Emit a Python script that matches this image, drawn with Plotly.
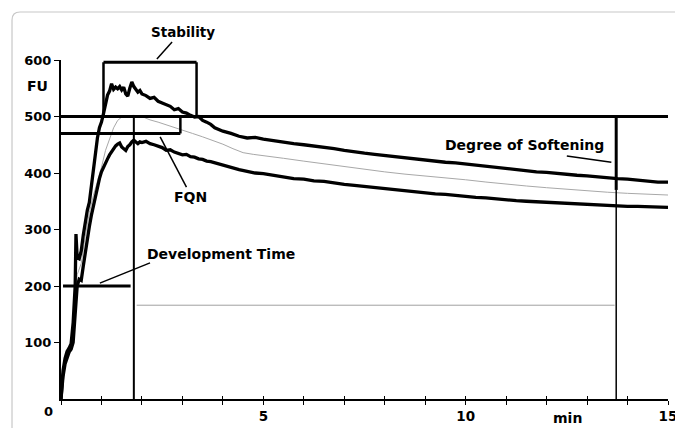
import plotly.graph_objects as go

# ---------------- data ----------------
t_upper = [0, 0.05, 0.1, 0.15, 0.2, 0.25, 0.3, 0.35, 0.37, 0.4, 0.45, 0.5, 0.55, 0.6, 0.65, 0.7,
           0.75, 0.8, 0.85, 0.9, 0.95, 1.0, 1.05, 1.1, 1.15, 1.2, 1.25, 1.3, 1.35, 1.4, 1.45, 1.5,
           1.55, 1.6, 1.65, 1.7, 1.75, 1.8, 1.85, 1.9, 1.95, 2.0, 2.1, 2.2, 2.3, 2.4, 2.5, 2.6, 2.7,
           2.8, 2.9, 3.0, 3.1, 3.2, 3.3, 3.4, 3.5, 3.6, 3.7, 3.8, 3.9, 4.0, 4.2, 4.4, 4.6, 4.8, 5.0,
           5.25, 5.5, 5.75, 6.0, 6.25, 6.5, 6.75, 7.0, 7.25, 7.5, 7.75, 8.0, 8.25, 8.5, 8.75, 9.0,
           9.25, 9.5, 9.75, 10.0, 10.25, 10.5, 10.75, 11.0, 11.25, 11.5, 11.75, 12.0, 12.25, 12.5,
           12.75, 13.0, 13.25, 13.5, 13.75, 14.0, 14.25, 14.5, 14.75, 15.0]
fu_upper = [0, 50, 72, 84, 90, 98, 135, 200, 292, 250, 248, 262, 290, 315, 334, 348,
            375, 405, 440, 462, 480, 490, 505, 525, 538, 545, 558, 548, 552, 549, 553, 547,
            552, 540, 536, 550, 561, 553, 549, 543, 546, 540, 537, 532, 534, 527, 524, 521, 518,
            512, 514, 508, 506, 502, 499, 500, 493, 490, 486, 480, 477, 474, 470, 465, 462, 463, 460,
            457, 455, 452, 450, 448, 446, 443, 440, 437, 435, 433, 431, 429, 427, 424, 423,
            421, 419, 418, 416, 413, 411, 410, 407, 405, 404, 402, 401, 399, 397,
            396, 395, 393, 391, 390, 389, 387, 386, 384, 384]

t_lower = [0, 0.05, 0.1, 0.15, 0.2, 0.25, 0.3, 0.35, 0.4, 0.45, 0.5, 0.55, 0.6, 0.65, 0.7, 0.75,
           0.8, 0.85, 0.9, 0.95, 1.0, 1.05, 1.1, 1.15, 1.2, 1.25, 1.3, 1.35, 1.4, 1.45, 1.5, 1.55,
           1.6, 1.65, 1.7, 1.75, 1.8, 1.85, 1.9, 1.95, 2.0, 2.1, 2.2, 2.3, 2.4, 2.5, 2.6, 2.7, 2.8,
           2.9, 3.0, 3.1, 3.2, 3.3, 3.4, 3.5, 3.6, 3.7, 3.8, 3.9, 4.0, 4.2, 4.4, 4.6, 4.8, 5.0,
           5.25, 5.5, 5.75, 6.0, 6.25, 6.5, 6.75, 7.0, 7.25, 7.5, 7.75, 8.0, 8.25, 8.5, 8.75, 9.0,
           9.25, 9.5, 9.75, 10.0, 10.25, 10.5, 10.75, 11.0, 11.25, 11.5, 11.75, 12.0, 12.25, 12.5,
           12.75, 13.0, 13.25, 13.5, 13.75, 14.0, 14.25, 14.5, 14.75, 15.0]
fu_lower = [0, 40, 62, 75, 83, 88, 100, 150, 200, 212, 210, 235, 262, 285, 305, 325,
            342, 355, 372, 390, 402, 410, 420, 425, 432, 438, 443, 448, 451, 453, 446, 443,
            440, 447, 450, 455, 458, 455, 452, 455, 454, 456, 452, 450, 447, 445, 440, 441, 437,
            435, 432, 433, 429, 428, 425, 424, 421, 420, 418, 416, 413, 410, 406, 403, 400, 399,
            396, 394, 390, 389, 386, 385, 382, 380, 378, 376, 375, 372, 370, 369, 366, 365,
            363, 362, 360, 359, 357, 356, 354, 353, 351, 350, 349, 348, 347, 346,
            345, 344, 343, 343, 342, 341, 341, 340, 340, 339]

t_mean = [0, 0.1, 0.2, 0.3, 0.4, 0.5, 0.6, 0.7, 0.8, 0.9, 1.0, 1.1, 1.2, 1.3, 1.4, 1.5, 1.6, 1.8,
          2.0, 2.2, 2.4, 2.6, 2.8, 3.0, 3.25, 3.5, 3.75, 4.0, 4.25, 4.5, 4.75, 5.0, 5.5, 6.0, 6.5,
          7.0, 7.5, 8.0, 8.5, 9.0, 9.5, 10.0, 10.5, 11.0, 11.5, 12.0, 12.5, 13.0, 13.5, 14.0, 14.5, 15.0]
fu_mean = [0, 68, 87, 118, 220, 240, 288, 330, 360, 385, 410, 440, 462, 480, 493, 499, 501, 502,
           500, 494, 490, 485, 480, 476, 470, 464, 458, 451, 443, 436, 433, 431, 426, 421, 416,
           411, 406, 402, 398, 395, 392, 388, 384, 380, 377, 374, 371, 368, 366, 364, 362, 361]

y_tick_vals = [100, 200, 300, 400, 500, 600]
y_tick_text = ["100", "200", "300", "400", "500", "600"]
x_tick_vals = list(range(0, 16))
x_tick_text = ["" if v not in (5, 10, 15) else str(v) for v in x_tick_vals]

# farinogram evaluation markers
LINE_500 = 500
FQN_LEVEL = 470
DEV_LEVEL = 200
STAB_TOP = 596
GREY_LEVEL = 166
T_ARRIVAL = 1.05
T_DEV = 1.8
T_FQN = 2.95
T_DEPARTURE = 3.35
T_SOFTEN = 13.72
SOFTEN_BOTTOM = 370
T_GREY_START, T_GREY_END = 1.87, 13.68

FONT = "DejaVu Sans, Verdana, sans-serif"

fig = go.Figure()
fig.add_trace(go.Scatter(x=t_mean, y=fu_mean, mode="lines",
                         line=dict(color="#a8a8a8", width=1), hoverinfo="skip"))
fig.add_trace(go.Scatter(x=t_lower, y=fu_lower, mode="lines",
                         line=dict(color="black", width=3.3), hoverinfo="skip"))
fig.add_trace(go.Scatter(x=t_upper, y=fu_upper, mode="lines",
                         line=dict(color="black", width=3.3), hoverinfo="skip"))
# invisible trace for the overlay axis carrying the inward tick marks
fig.add_trace(go.Scatter(x=[0, 15], y=[0, 0], xaxis="x2", mode="lines",
                         line=dict(width=0), showlegend=False, hoverinfo="skip"))

def seg(x0, y0, x1, y1, w=2.5, color="black", xref="x", yref="y"):
    fig.add_shape(type="line", x0=x0, y0=y0, x1=x1, y1=y1, xref=xref, yref=yref,
                  line=dict(color=color, width=w))

# 500 FU line
seg(0, LINE_500, 15, LINE_500, w=3)
# FQN box
seg(0, FQN_LEVEL, T_FQN, FQN_LEVEL, w=3)
seg(T_FQN, FQN_LEVEL, T_FQN, LINE_500, w=2.5)
# stability bracket
seg(T_ARRIVAL, STAB_TOP, T_DEPARTURE, STAB_TOP, w=3)
seg(T_ARRIVAL, STAB_TOP, T_ARRIVAL, LINE_500, w=2.5)
seg(T_DEPARTURE, STAB_TOP, T_DEPARTURE, LINE_500, w=2.5)
# development time
seg(T_DEV, 0, T_DEV, LINE_500, w=2)
seg(0.05, DEV_LEVEL, 1.72, DEV_LEVEL, w=3)
# grey reference line
seg(T_GREY_START, GREY_LEVEL, T_GREY_END, GREY_LEVEL, w=1, color="#a0a0a0")
# degree of softening
seg(T_SOFTEN, 0, T_SOFTEN, SOFTEN_BOTTOM, w=1.5)
seg(T_SOFTEN, SOFTEN_BOTTOM, T_SOFTEN, LINE_500, w=3)

# leader lines
seg(0.96, 205, 2.2, 241, w=1.5)            # development time
seg(2.45, 464, 3.1, 375, w=1.5)             # FQN
seg(12.5, 430, 13.6, 419, w=1.5)            # softening
seg(0.158, 1.003, 0.183, 1.053, w=1.5, xref="paper", yref="paper")  # stability

# light rounded frame around the figure
fig.add_shape(type="path", xref="paper", yref="paper",
              path="M 1.06,1.1416 L -0.0675,1.1416 Q -0.0807,1.1416 -0.0807,1.118 L -0.0807,-0.12",
              line=dict(color="#c8c8c8", width=1.2))

def label(text, x, y, xref="x", yref="y", xanchor="center", size=14):
    fig.add_annotation(text=text, x=x, y=y, xref=xref, yref=yref, showarrow=False,
                       xanchor=xanchor, yanchor="middle",
                       font=dict(family=FONT, size=size, color="black", weight="bold"))

label("Stability", 0.201, 1.083, "paper", "paper", size=13.5)
label("Development Time", 2.08, 257, xanchor="left")
label("FQN", 3.19, 357)
label("Degree of Softening", 13.47, 450, xanchor="right")
label("FU", -0.038, 0.923, "paper", "paper")
label("0", -0.02, -0.038, "paper", "paper", size=13)
label("min", 0.835, -0.056, "paper", "paper")

# the page body adds an 8px offset, so the figure is 8px smaller and margins shifted
fig.update_layout(
    width=675, height=420,
    margin=dict(l=53, r=15, t=52, b=29, pad=0, autoexpand=False),
    paper_bgcolor="white", plot_bgcolor="white",
    showlegend=False,
    font=dict(family=FONT, size=13, color="black"),
    xaxis=dict(range=[0, 15], showgrid=False, zeroline=False, showline=True, automargin=False,
               linecolor="black", linewidth=2, ticks="outside", ticklen=4, tickwidth=1.2,
               tickcolor="black", tickvals=x_tick_vals, ticktext=x_tick_text,
               tickfont=dict(family=FONT, size=13.5, weight="bold"), fixedrange=True),
    xaxis2=dict(range=[0, 15], overlaying="x", anchor="y", side="bottom", showgrid=False,
                zeroline=False, showline=False, ticks="inside", ticklen=3, tickwidth=1.2,
                automargin=False,
                tickcolor="black", tickvals=x_tick_vals, showticklabels=False),
    yaxis=dict(range=[0, 600], showgrid=False, zeroline=False, showline=True, automargin=False,
               linecolor="black", linewidth=2, ticks="outside", ticklen=5, tickwidth=1.2,
               tickcolor="black", tickvals=y_tick_vals, ticktext=y_tick_text,
               tickfont=dict(family=FONT, size=13, weight="bold"), fixedrange=True),
)

fig.write_html("out.html")
